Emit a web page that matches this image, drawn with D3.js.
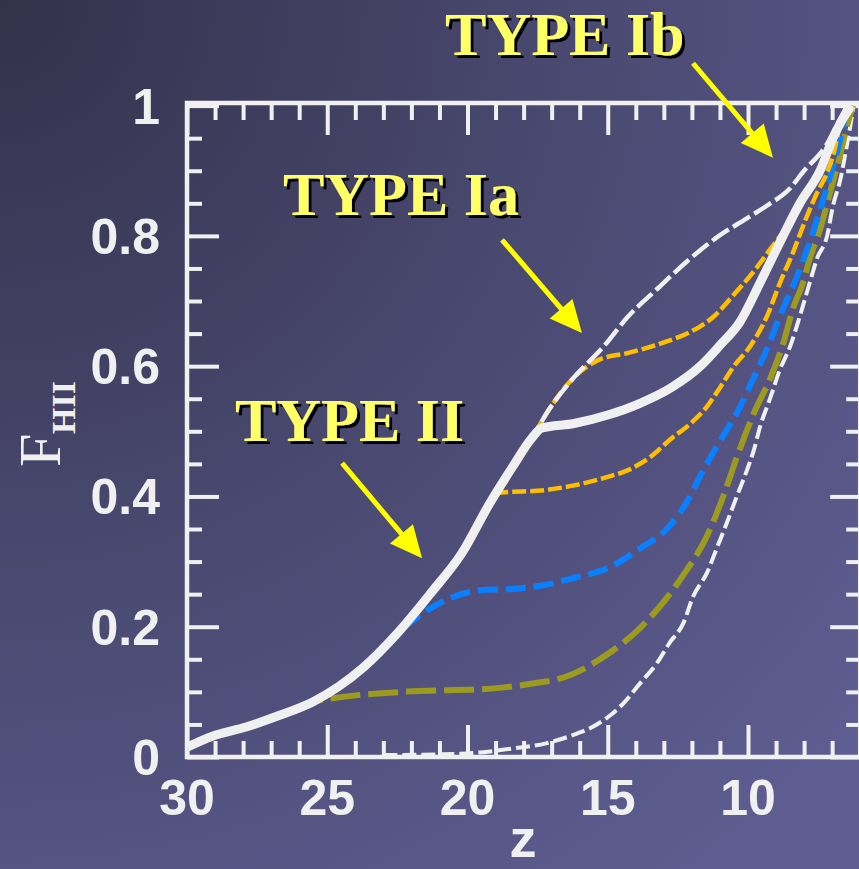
<!DOCTYPE html>
<html>
<head>
<meta charset="utf-8">
<script src="https://cdn.jsdelivr.net/npm/d3@7"></script>
<style>
  html, body { margin: 0; padding: 0; background: #45446a; }
  svg { display: block; }
</style>
</head>
<body>
<div id="chart"></div>
<script>
// ---------- data (z, F_HII) ----------
// common early rise shared by all models
const commonPath = [[30,0.015],[29.1,0.032],[27.9,0.046],[26.7,0.064],[25.5,0.085],[24.6,0.108],[23.7,0.138],[22.5,0.19],[21.3,0.252],[20.2,0.313],[19.2,0.39],[18.4,0.445],[17.7,0.49],[17.1,0.533],[16.2,0.583],[15.6,0.605]];
// break redshift of each model (where it leaves the common path) and its own tail
const breakUpperWhite = 15.6;
const tailUpperWhite = [[15.17,0.629],[14.3,0.675],[13.2,0.72],[12.2,0.76],[11.1,0.798],[10.04,0.827],[9.3,0.847],[8.5,0.873],[8.04,0.898],[7.2,0.94],[6.83,0.97],[6.47,1.0]];
const breakOrange1 = 15.6;
const tailOrange1 = [[15.3,0.61],[14.3,0.62],[13.1,0.635],[11.95,0.655],[11.25,0.675],[10.5,0.71],[9.8,0.745],[9.2,0.78],[8.6,0.815],[8.1,0.85],[7.45,0.9],[7.1,0.935],[6.6,0.985],[6.4,1.0]];
const breakWhiteThick = 17.35;
const tailWhiteThick = [[17.35,0.505],[16.2,0.512],[15.0,0.525],[13.85,0.543],[12.7,0.568],[11.7,0.6],[11.0,0.632],[10.3,0.667],[9.57,0.728],[8.75,0.8],[8.15,0.85],[7.43,0.9],[6.97,0.95],[6.47,0.99],[6.3,1.0]];
const breakOrange2 = 19.0;
const tailOrange2 = [[19.0,0.405],[17.2,0.41],[16.2,0.417],[15.0,0.43],[14.3,0.44],[13.5,0.46],[12.7,0.49],[12.1,0.51],[11.5,0.536],[11.0,0.567],[10.5,0.6],[9.93,0.63],[9.32,0.677],[8.86,0.728],[8.4,0.774],[7.9,0.83],[7.54,0.866],[7.18,0.897],[6.97,0.923],[6.7,0.973],[6.45,1.0]];
const breakBlue = 21.3;
const tailBlue = [[19.55,0.256],[18.4,0.258],[17.4,0.263],[16.2,0.275],[15.0,0.29],[13.85,0.32],[12.9,0.35],[12.2,0.39],[11.6,0.44],[11.0,0.485],[10.3,0.536],[9.8,0.582],[9.32,0.627],[8.86,0.677],[8.25,0.738],[7.8,0.79],[7.43,0.84],[7.08,0.89],[6.72,0.948],[6.47,1.0]];
const breakOlive = 24.6;
const tailOlive = [[21.9,0.101],[19.55,0.104],[17.8,0.112],[16.45,0.124],[15.0,0.158],[13.85,0.198],[12.9,0.244],[12.2,0.286],[11.5,0.336],[10.9,0.398],[10.4,0.46],[9.8,0.527],[9.2,0.582],[8.75,0.634],[8.4,0.688],[8.04,0.728],[7.8,0.765],[7.43,0.81],[7.08,0.866],[6.72,0.923],[6.47,0.969],[6.25,1.0]];
// late model, no early phase
const lowerWhite = [[23.0,0.003],[21.0,0.004],[19.55,0.007],[18.4,0.013],[17.2,0.021],[16.1,0.036],[15.6,0.045],[15.0,0.061],[14.45,0.082],[13.85,0.113],[13.25,0.144],[12.8,0.175],[12.3,0.206],[11.96,0.246],[11.46,0.283],[11.1,0.322],[10.75,0.36],[10.4,0.4],[10.04,0.44],[9.8,0.47],[9.57,0.507],[9.2,0.552],[8.86,0.595],[8.5,0.63],[8.15,0.677],[7.8,0.728],[7.54,0.765],[7.18,0.8],[6.97,0.846],[6.7,0.888],[6.47,0.94],[6.25,0.995]];

// axes
const xDomain = [30, 6];
const yDomain = [0, 1];
const xMajorTicks = [30, 25, 20, 15, 10];
const xMinorTicks = d3.range(29, 6, -1).filter(v => v % 5 !== 0);
const yMajorTicks = [0, 0.2, 0.4, 0.6, 0.8, 1];
const yMajorLabels = ["0", "0.2", "0.4", "0.6", "0.8", "1"];
const yMinorTicks = [0.05,0.1,0.15,0.25,0.3,0.35,0.45,0.5,0.55,0.65,0.7,0.75,0.85,0.9,0.95];

// annotations: label text, label anchor (z,F), arrow tail (z,F), arrow tip (z,F)
const annLabels = ["TYPE Ib", "TYPE Ia", "TYPE II"];
const annLabelPos = [[20.8,1.078],[26.58,0.832],[28.29,0.485]];
const annArrowTail = [[11.96,1.065],[18.77,0.794],[24.47,0.451]];
const annArrowTip = [[9.11,0.92],[15.92,0.651],[21.62,0.305]];

// ---------- drawing ----------
const W = 859, H = 869;
const svg = d3.select("#chart").append("svg").attr("width", W).attr("height", H);
const defs = svg.append("defs");
const grad = defs.append("radialGradient").attr("id", "bg")
  .attr("gradientUnits", "userSpaceOnUse").attr("cx", 0).attr("cy", 0).attr("r", 1150);
grad.append("stop").attr("offset", 0).attr("stop-color", "#33324b");
grad.append("stop").attr("offset", 0.55).attr("stop-color", "#4c4b74");
grad.append("stop").attr("offset", 1).attr("stop-color", "#5f5e93");
svg.append("rect").attr("width", W).attr("height", H).attr("fill", "url(#bg)");

const shadow = defs.append("filter").attr("id", "shadow")
  .attr("x", "-5%").attr("y", "-10%").attr("width", "115%").attr("height", "130%");
shadow.append("feDropShadow").attr("dx", 3).attr("dy", 3).attr("stdDeviation", 0.4)
  .attr("flood-color", "#000").attr("flood-opacity", 1);

const x = d3.scaleLinear().domain(xDomain).range([187, 860.2]);
const y = d3.scaleLinear().domain(yDomain).range([757, 105.6]);
const FG = "#f0f0f0";

defs.append("clipPath").attr("id", "clip").append("rect")
  .attr("x", x(30)).attr("y", y(1.006)).attr("width", x(6) - x(30)).attr("height", y(0) - y(1.006));

// ticks via d3 axes
function tickAxis(axisFn, scale, vals, size, transform) {
  const g = svg.append("g").attr("transform", transform)
    .call(axisFn(scale).tickValues(vals).tickSize(size).tickFormat(""));
  g.select(".domain").remove();
  g.selectAll(".tick line").attr("stroke", FG).attr("stroke-width", 4);
  return g;
}
const yBot = y(0), yTop = y(1.004), xL = x(30), xR = x(6);
tickAxis(d3.axisBottom, x, xMajorTicks, -32, `translate(0,${yBot})`);
tickAxis(d3.axisBottom, x, xMinorTicks, -16, `translate(0,${yBot})`);
tickAxis(d3.axisTop, x, xMajorTicks, -32, `translate(0,${yTop})`);
tickAxis(d3.axisTop, x, xMinorTicks, -17, `translate(0,${yTop})`);
tickAxis(d3.axisLeft, y, yMajorTicks, -32, `translate(${xL},0)`);
tickAxis(d3.axisLeft, y, yMinorTicks, -15, `translate(${xL},0)`);
tickAxis(d3.axisRight, y, yMajorTicks, -30, `translate(${xR},0)`);
tickAxis(d3.axisRight, y, yMinorTicks, -14, `translate(${xR},0)`);

// frame
svg.append("rect").attr("x", xL).attr("y", yTop).attr("width", xR - xL).attr("height", yBot - yTop)
  .attr("fill", "none").attr("stroke", FG).attr("stroke-width", 4.5);

// tick labels
const labelFont = "'Liberation Sans', Arial, sans-serif";
svg.append("g").selectAll("text").data(xMajorTicks).join("text")
  .attr("x", d => x(d)).attr("y", 815)
  .attr("text-anchor", "middle").attr("font-family", labelFont).attr("font-weight", "bold")
  .attr("font-size", 50).attr("fill", FG).text(d => d);
svg.append("g").selectAll("text").data(yMajorTicks).join("text")
  .attr("x", 160).attr("y", d => y(d)).attr("dy", "0.36em")
  .attr("text-anchor", "end").attr("font-family", labelFont).attr("font-weight", "bold")
  .attr("font-size", 50).attr("fill", FG).text((d, i) => yMajorLabels[i]);

// axis titles
svg.append("text").attr("x", 523).attr("y", 857).attr("text-anchor", "middle")
  .attr("font-family", labelFont).attr("font-weight", "bold").attr("font-size", 54)
  .attr("fill", FG).text("z");
svg.append("text").attr("transform", "translate(60,467) rotate(-90)")
  .attr("font-family", "'Liberation Serif', 'Times New Roman', serif").attr("font-size", 60)
  .attr("fill", FG).text("F");
svg.append("text").attr("transform", "translate(75,434) rotate(-90)")
  .attr("font-family", "'Liberation Serif', 'Times New Roman', serif").attr("font-weight", "bold")
  .attr("font-size", 34).attr("fill", FG).text("HII");

// curves
const line = d3.line().x(d => x(d[0])).y(d => y(d[1])).curve(d3.curveMonotoneX);
const withCommon = (bz, tail) => commonPath.filter(p => p[0] > bz).concat(tail);

const plot = svg.append("g").attr("clip-path", "url(#clip)");
const series = [
  { pts: lowerWhite, color: FG, w: 4, dash: "14,5" },
  { pts: withCommon(breakOlive, tailOlive), color: "#9d9b1f", w: 6, dash: "30,8" },
  { pts: withCommon(breakBlue, tailBlue), color: "#0a80ff", w: 6, dash: "20,8" },
  { pts: withCommon(breakOrange2, tailOrange2), color: "#ffbf00", w: 4.5, dash: "14,4" },
  { pts: withCommon(breakOrange1, tailOrange1), color: "#ffbf00", w: 4.5, dash: "14,4" },
  { pts: withCommon(breakUpperWhite, tailUpperWhite), color: FG, w: 4.5, dash: "20,5" },
  { pts: withCommon(breakWhiteThick, tailWhiteThick), color: FG, w: 9, dash: null },
];
plot.selectAll("path").data(series).join("path")
  .attr("d", d => line(d.pts)).attr("fill", "none")
  .attr("stroke", d => d.color).attr("stroke-width", d => d.w)
  .attr("stroke-dasharray", d => d.dash);

// annotations
const ann = svg.append("g");
annLabels.forEach((t, i) => {
  const [lz, lf] = annLabelPos[i];
  ann.append("text").attr("x", x(lz)).attr("y", y(lf))
    .attr("font-family", "'Liberation Serif', 'Times New Roman', serif").attr("font-weight", "bold")
    .attr("font-size", 62).attr("fill", "#ffff66").attr("filter", "url(#shadow)").text(t);

  const x1 = x(annArrowTail[i][0]), y1 = y(annArrowTail[i][1]);
  const x2 = x(annArrowTip[i][0]), y2 = y(annArrowTip[i][1]);
  const ang = Math.atan2(y2 - y1, x2 - x1);
  const hl = 32, hw = 15;
  const bx = x2 - hl * Math.cos(ang), by = y2 - hl * Math.sin(ang);
  ann.append("line").attr("x1", x1).attr("y1", y1).attr("x2", bx + 2 * Math.cos(ang)).attr("y2", by + 2 * Math.sin(ang))
    .attr("stroke", "#ffff00").attr("stroke-width", 5);
  const px = -Math.sin(ang), py = Math.cos(ang);
  ann.append("polygon")
    .attr("points", [[x2, y2], [bx + hw * px, by + hw * py], [bx - hw * px, by - hw * py]].map(p => p.join(",")).join(" "))
    .attr("fill", "#ffff00");
});
</script>
</body>
</html>
